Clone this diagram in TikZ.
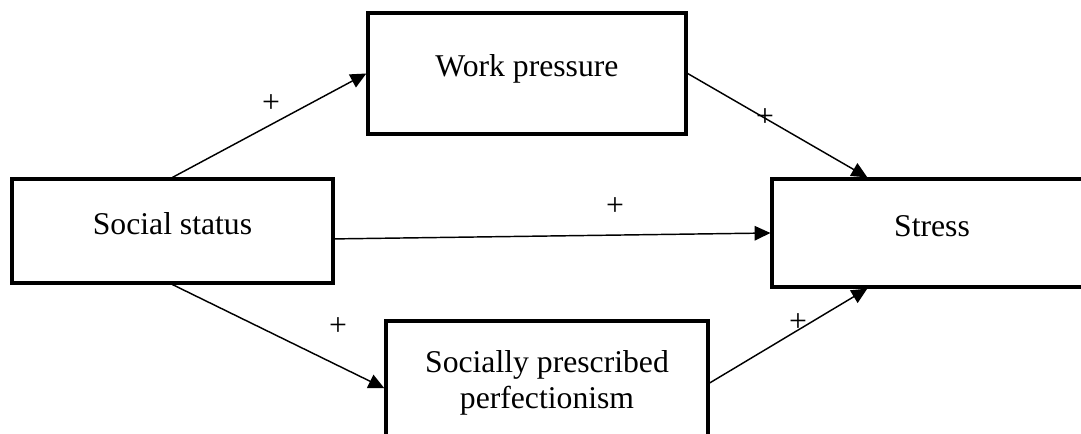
\documentclass[tikz,border=0pt]{standalone}
\usepackage{fontspec}
\setmainfont{Liberation Serif}
\usetikzlibrary{arrows.meta,calc}
\tikzstyle{line} = [draw, line width=0.55pt, -{Triangle[length=6pt, width=5.5pt]}]
\tikzstyle{box} = [rectangle, draw, line width=1.2pt, text height=8pt, text depth=5.7pt]
\tikzstyle{sign} = [inner sep=0pt]

\begin{document}
\begin{tikzpicture}[x=0.3788pt, y=-0.3788pt, font=\fontsize{12}{13.8}\selectfont]
    \useasboundingbox (0,0) rectangle (1081,434);
    \clip (0,0) rectangle (1081,434);

    \node[box, minimum width=121.6pt, minimum height=39.4pt] (ss) at (172.5, 231) {Social status};
    \node[box, minimum width=120.5pt, minimum height=45.8pt] (wp) at (527, 73.5) {Work pressure};
    \node[box, minimum width=121.2pt, minimum height=40.9pt] (st) at (932, 233) {Stress};
    \node[rectangle, draw, line width=1.2pt, align=center, minimum width=122pt, minimum height=47pt] (spp) at (547, 383) {Socially prescribed\\perfectionism};

    \node[sign] (p1) at (271, 104) {+};
    \node[sign] (p2) at (765, 118) {+};
    \node[sign] (p3) at (615, 207) {+};
    \node[sign] (p4) at (338, 327) {+};
    \node[sign] (p5) at (798, 323) {+};

    \path [line] (ss.north) -- (wp.west);
    \path [line] (wp.east) -- ($(st.north west)!0.3!(st.north east)$);
    \path [line] ([yshift=-3pt]ss.east) -- (st.west);
    \path [line] (ss.south) -- ([yshift=-2pt]spp.west);
    \path [line] (spp.east) -- ($(st.south west)!0.3!(st.south east)$);

\end{tikzpicture}
\end{document}
